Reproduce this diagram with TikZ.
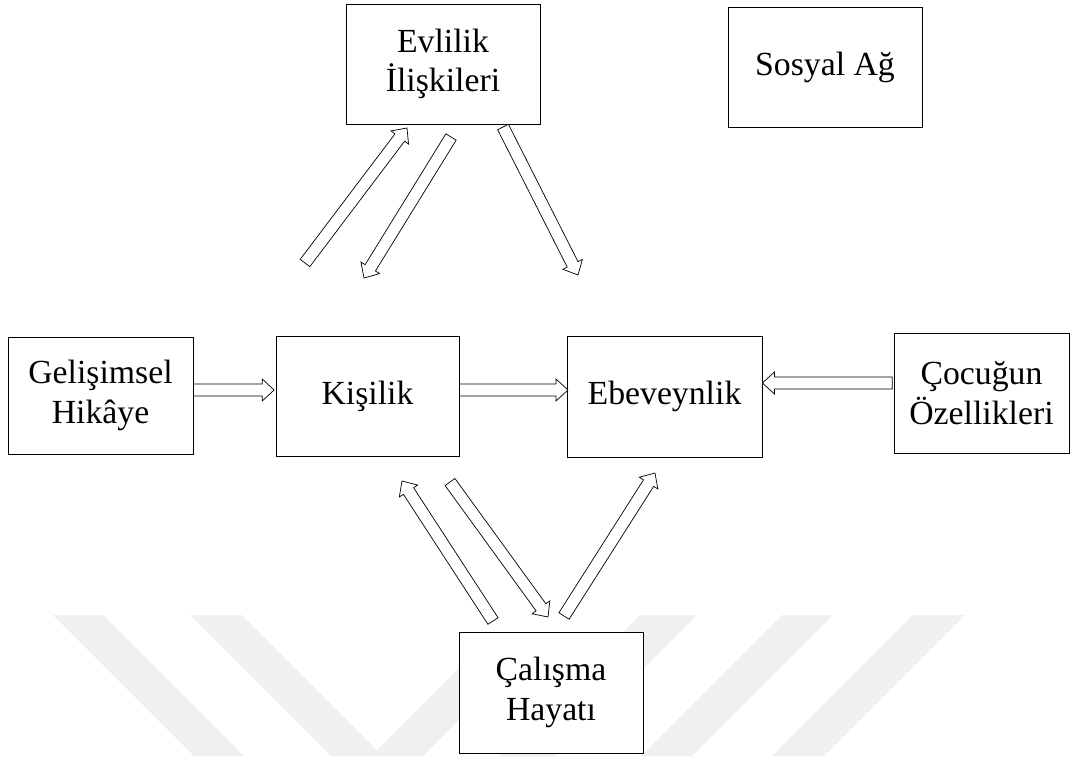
\documentclass[tikz,border=0pt]{standalone}
\usepackage{fontspec}
\setmainfont{Liberation Serif}
\usepackage{tikz}
\usetikzlibrary{arrows.meta,positioning,calc}
\newcommand\shaftw{4.3pt}
\newcommand\headw{7.8pt}
\newcommand\headl{8.5pt}
\tikzset{
    every picture/.style={line width=0.6pt},
    box/.style={rectangle,draw,fill=white,inner sep=0pt,align=center,
        font=\fontsize{24}{28}\selectfont},
    arrowline/.style={draw,fill=white,line width=0.5pt,line join=miter},
    mark stripe/.style={fill=black!6,draw=none}
}
% hollow block arrow from #1 to #2
\newcommand\blockarrow[2]{%
    \coordinate (ba-c) at ($(#2)!\headl!(#1)$);
    \path[arrowline] ($(#1)!\shaftw!90:(#2)$) -- ($(ba-c)!\shaftw!-90:(#1)$)
        -- ($(ba-c)!\headw!-90:(#1)$) -- (#2) -- ($(ba-c)!\headw!90:(#1)$)
        -- ($(ba-c)!\shaftw!90:(#1)$) -- ($(#1)!\shaftw!-90:(#2)$) -- cycle;
}

\begin{document}
\begin{tikzpicture}[x=0.025cm,y=-0.025cm]
    \useasboundingbox (0,0) rectangle (1070,756);
    % faint background mark
    \fill[mark stripe] (53,615) -- (103,615) -- (244,756) -- (194,756) -- cycle;
    \fill[mark stripe] (190,615) -- (242,615) -- (383,756) -- (331,756) -- cycle;
    \fill[mark stripe] (371,756) -- (423,756) -- (539,640) -- (487,640) -- cycle;
    \fill[mark stripe] (640,615) -- (697,615) -- (556,756) -- (499,756) -- cycle;
    \fill[mark stripe] (782,615) -- (833,615) -- (692,756) -- (641,756) -- cycle;
    \fill[mark stripe] (913,615) -- (965,615) -- (824,756) -- (772,756) -- cycle;

    \node[box,minimum width=4.85cm,minimum height=3cm] (evlilik) at (443,64) {Evlilik\\İlişkileri};
    \node[box,minimum width=4.85cm,minimum height=3cm] (sosyal) at (825,67) {Sosyal Ağ};
    \node[box,minimum width=4.625cm,minimum height=2.925cm] (gelisim) at (100.5,395.5) {Gelişimsel\\Hikâye};
    \node[box,minimum width=4.575cm,minimum height=3cm] (kisilik) at (367.5,396) {Kişilik};
    \node[box,minimum width=4.875cm,minimum height=3.025cm] (ebeveyn) at (664.5,396.5) {Ebeveynlik};
    \node[box,minimum width=4.375cm,minimum height=3cm] (cocuk) at (981.5,393) {Çocuğun\\Özellikleri};
    \node[box,minimum width=4.6cm,minimum height=3.025cm] (calisma) at (551,692.5) {Çalışma\\Hayatı};

    % horizontal arrows
    \coordinate (gk-a) at (gelisim.east |- 0,390);
    \coordinate (gk-b) at ([xshift=-1]kisilik.west |- 0,390);
    \coordinate (ke-a) at (kisilik.east |- 0,390);
    \coordinate (ke-b) at ([xshift=1]ebeveyn.west |- 0,390);
    \coordinate (ce-a) at ([xshift=-1]cocuk.west |- 0,383);
    \coordinate (ce-b) at (ebeveyn.east |- 0,383);
    \blockarrow{gk-a}{gk-b}
    \blockarrow{ke-a}{ke-b}
    \blockarrow{ce-a}{ce-b}

    % arrows round evlilik
    \coordinate (ev-in) at (305,263);
    \coordinate (ev-up) at (407,128);
    \coordinate (ev-out1) at (451,137);
    \coordinate (ev-down1) at (364,278);
    \coordinate (ev-out2) at (503,127);
    \coordinate (ev-down2) at (578,275);
    \blockarrow{ev-in}{ev-up}
    \blockarrow{ev-out1}{ev-down1}
    \blockarrow{ev-out2}{ev-down2}

    % arrows round calisma
    \coordinate (ca-out1) at (493,621);
    \coordinate (ca-up1) at (402,481);
    \coordinate (ca-in) at (450,482);
    \coordinate (ca-down) at (548,617);
    \coordinate (ca-out2) at (564,616);
    \coordinate (ca-up2) at (655,473);
    \blockarrow{ca-out1}{ca-up1}
    \blockarrow{ca-in}{ca-down}
    \blockarrow{ca-out2}{ca-up2}
\end{tikzpicture}
\end{document}
